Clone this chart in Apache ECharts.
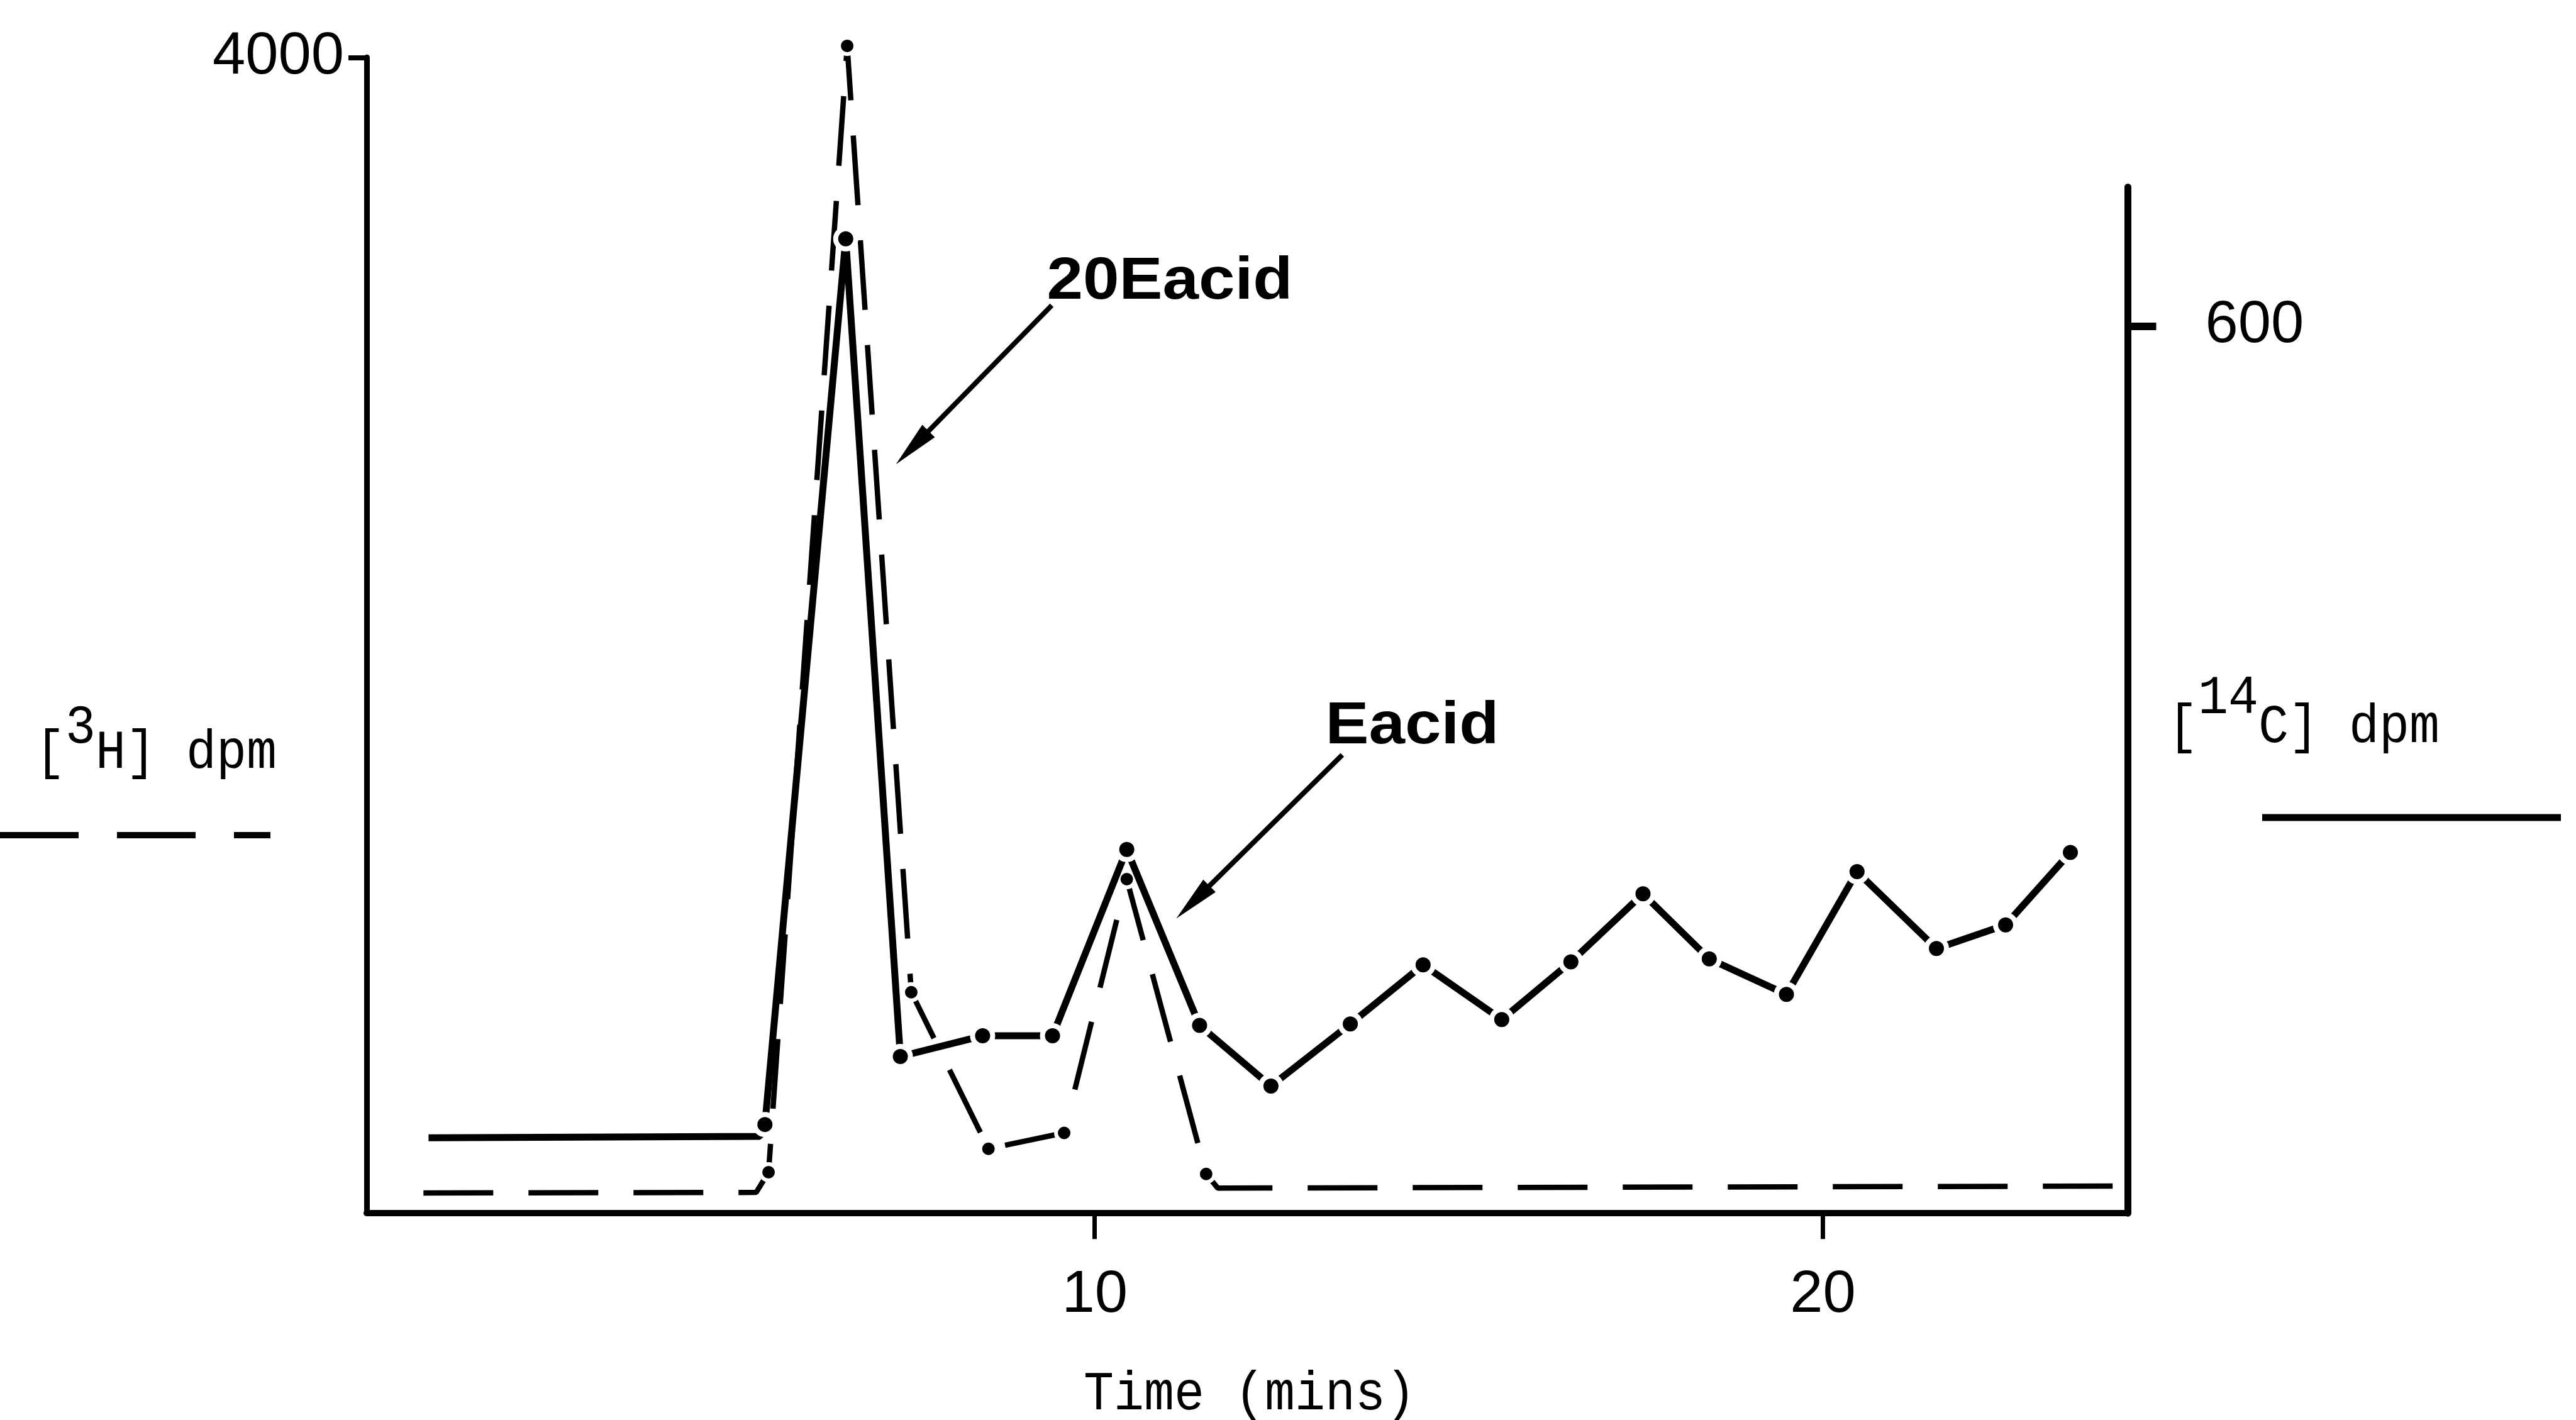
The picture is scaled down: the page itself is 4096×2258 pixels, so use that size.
<!DOCTYPE html>
<html>
<head>
<meta charset="utf-8">
<script src="https://cdn.jsdelivr.net/npm/echarts@6/dist/echarts.min.js"></script>
<style>
html,body{margin:0;padding:0;background:#fff;}
#c{width:4096px;height:2258px;}
</style>
</head>
<body>
<div id="c"></div>
<script>
// ---- data ----
const xTickValues = [10, 20];
const leftTickValues = [4000];
const rightTickValues = [600];

// [3H] dpm (dashed, left axis)
const h3Time = [0.78, 5.35, 5.52, 6.60, 7.48, 8.54, 9.58, 10.44, 11.53, 11.69, 24.19];
const h3Dpm  = [70,   72,   142,  4040, 765,  223,  278,  1156,  136,   87,    94];

// [14C] dpm (solid, right axis)
const c14Time = [0.85, 5.40, 5.47, 6.58, 7.33, 8.46, 9.42, 10.44, 11.44, 12.42, 13.51, 14.51, 15.59, 16.54, 17.53, 18.44, 19.50, 20.47, 21.56, 22.51, 23.40];
const c14Dpm  = [51,   52,   60,   659,  106,  120,  120,  246,   127,   86,    128,   168,   131,   170,   216,   172,   148,   231,   179,   195,   244];

// annotations: label centre, arrow start, arrow tip (in time / [3H] dpm units)
const annoLabels = ['20Eacid', 'Eacid'];
const annoAt   = [[11.03, 3222], [14.36, 1682]];
const annoFrom = [[9.41, 3142], [13.40, 1586]];
const annoTo   = [[7.27, 2592], [11.12, 1020]];

const xLabel = 'Time (mins)';

// ---- chart ----
const mono = "'Liberation Mono', 'DejaVu Sans Mono', monospace";
const narrow = "'Liberation Sans Narrow', 'Liberation Sans', Arial, sans-serif";
const boldFam = "'Liberation Sans', Arial, sans-serif";

const chart = echarts.init(document.getElementById('c'), null, {renderer: 'canvas'});

function pts(ts, vs, skip) {
  return ts.map((t, i) => ({
    value: [t, vs[i]],
    symbol: skip(i, ts.length) ? 'none' : 'circle'
  }));
}
const plain = v => String(v);

const gridBase = {left: 583, right: 712.5, bottom: 328.8, containLabel: false, outerBoundsMode: 'none'};

const option = {
  backgroundColor: '#ffffff',
  animation: false,
  grid: [
    Object.assign({top: 91.3}, gridBase),
    Object.assign({top: 297.5}, gridBase)
  ],
  xAxis: [
    {
      type: 'value', gridIndex: 0, min: 0, max: 24.19,
      splitLine: {show: false},
      axisLine: {show: true, onZero: false, lineStyle: {color: '#000', width: 10}},
      axisTick: {show: true, customValues: xTickValues, length: 41, lineStyle: {color: '#000', width: 7}},
      axisLabel: {show: true, customValues: xTickValues, formatter: plain, margin: 84, fontSize: 94, fontFamily: narrow, color: '#000'}
    },
    {type: 'value', gridIndex: 1, min: 0, max: 24.19, show: false}
  ],
  yAxis: [
    {
      type: 'value', gridIndex: 0, position: 'left', min: 0, max: 4000,
      splitLine: {show: false},
      axisLine: {show: true, onZero: false, lineStyle: {color: '#000', width: 9}},
      axisTick: {show: true, customValues: leftTickValues, length: 29, lineStyle: {color: '#000', width: 8}},
      axisLabel: {show: true, customValues: leftTickValues, formatter: plain, margin: 36, fontSize: 94, fontFamily: narrow, color: '#000', padding: [0, 0, 36, 0]}
    },
    {
      type: 'value', gridIndex: 1, position: 'right', min: 0, max: 694,
      splitLine: {show: false},
      axisLine: {show: true, onZero: false, lineStyle: {color: '#000', width: 11}},
      axisTick: {show: true, customValues: rightTickValues, length: 45, lineStyle: {color: '#000', width: 12}},
      axisLabel: {show: true, customValues: rightTickValues, formatter: plain, margin: 123, fontSize: 94, fontFamily: narrow, color: '#000'}
    }
  ],
  series: [
    {
      name: '[3H] dpm', type: 'line', xAxisIndex: 0, yAxisIndex: 0, clip: false,
      data: pts(h3Time, h3Dpm, (i, n) => i < 2 || i >= n - 2),
      symbolSize: 26,
      lineStyle: {color: '#000', width: 8.5, type: [111, 56], cap: 'butt'},
      itemStyle: {color: '#000', borderColor: '#fff', borderWidth: 6},
      z: 3
    },
    {
      name: '[14C] dpm', type: 'line', xAxisIndex: 1, yAxisIndex: 1, clip: false,
      data: pts(c14Time, c14Dpm, (i, n) => i < 2),
      symbolSize: 32,
      lineStyle: {color: '#000', width: 11, type: 'solid'},
      itemStyle: {color: '#000', borderColor: '#fff', borderWidth: 8},
      z: 4
    }
  ]
};
chart.setOption(option);

// ---- annotations, axis titles, legend keys ----
const g = [];
const px = p => chart.convertToPixel({gridIndex: 0}, p);
const headLen = 74, headHalf = 14;
for (let i = 0; i < annoLabels.length; i++) {
  const a = px(annoFrom[i]), b = px(annoTo[i]), c = px(annoAt[i]);
  const dx = b[0] - a[0], dy = b[1] - a[1], L = Math.hypot(dx, dy);
  const ux = dx / L, uy = dy / L;
  const bx = b[0] - ux * headLen, by = b[1] - uy * headLen;
  g.push({type: 'line', z: 50, shape: {x1: a[0], y1: a[1], x2: bx + ux * 5, y2: by + uy * 5},
          style: {stroke: '#000', lineWidth: 8}});
  g.push({type: 'polygon', z: 50, shape: {points: [[b[0], b[1]], [bx - uy * headHalf, by + ux * headHalf], [bx + uy * headHalf, by - ux * headHalf]]},
          style: {fill: '#000'}});
  g.push({type: 'text', z: 50, x: c[0], y: c[1], scaleX: 1.1,
          style: {text: annoLabels[i], fontFamily: boldFam, fontWeight: 'bold', fontSize: 94, fill: '#000', align: 'center', verticalAlign: 'middle'}});
}
// left axis title  [3H] dpm
g.push({type: 'text', z: 50, x: 56, y: 1198, scaleY: 1.1,
        style: {text: '[ H] dpm', fontFamily: mono, fontSize: 80, fill: '#000', align: 'left', verticalAlign: 'middle'}});
g.push({type: 'text', z: 50, x: 104, y: 1158, scaleY: 1.1,
        style: {text: '3', fontFamily: mono, fontSize: 80, fill: '#000', align: 'left', verticalAlign: 'middle'}});
// right axis title  [14C] dpm
g.push({type: 'text', z: 50, x: 3447, y: 1157, scaleY: 1.1,
        style: {text: '[  C] dpm', fontFamily: mono, fontSize: 80, fill: '#000', align: 'left', verticalAlign: 'middle'}});
g.push({type: 'text', z: 50, x: 3495, y: 1111, scaleY: 1.1,
        style: {text: '14', fontFamily: mono, fontSize: 80, fill: '#000', align: 'left', verticalAlign: 'middle'}});
// x axis title
g.push({type: 'text', z: 50, x: 1987, y: 2218, scaleY: 1.1,
        style: {text: xLabel, fontFamily: mono, fontSize: 80, fill: '#000', align: 'center', verticalAlign: 'middle'}});
// legend keys
g.push({type: 'line', z: 50, shape: {x1: 0, y1: 1328, x2: 430, y2: 1328},
        style: {stroke: '#000', lineWidth: 10, lineDash: [125, 61]}});
g.push({type: 'line', z: 50, shape: {x1: 3597, y1: 1300, x2: 4072, y2: 1300},
        style: {stroke: '#000', lineWidth: 11}});

chart.setOption({graphic: g});
</script>
</body>
</html>
